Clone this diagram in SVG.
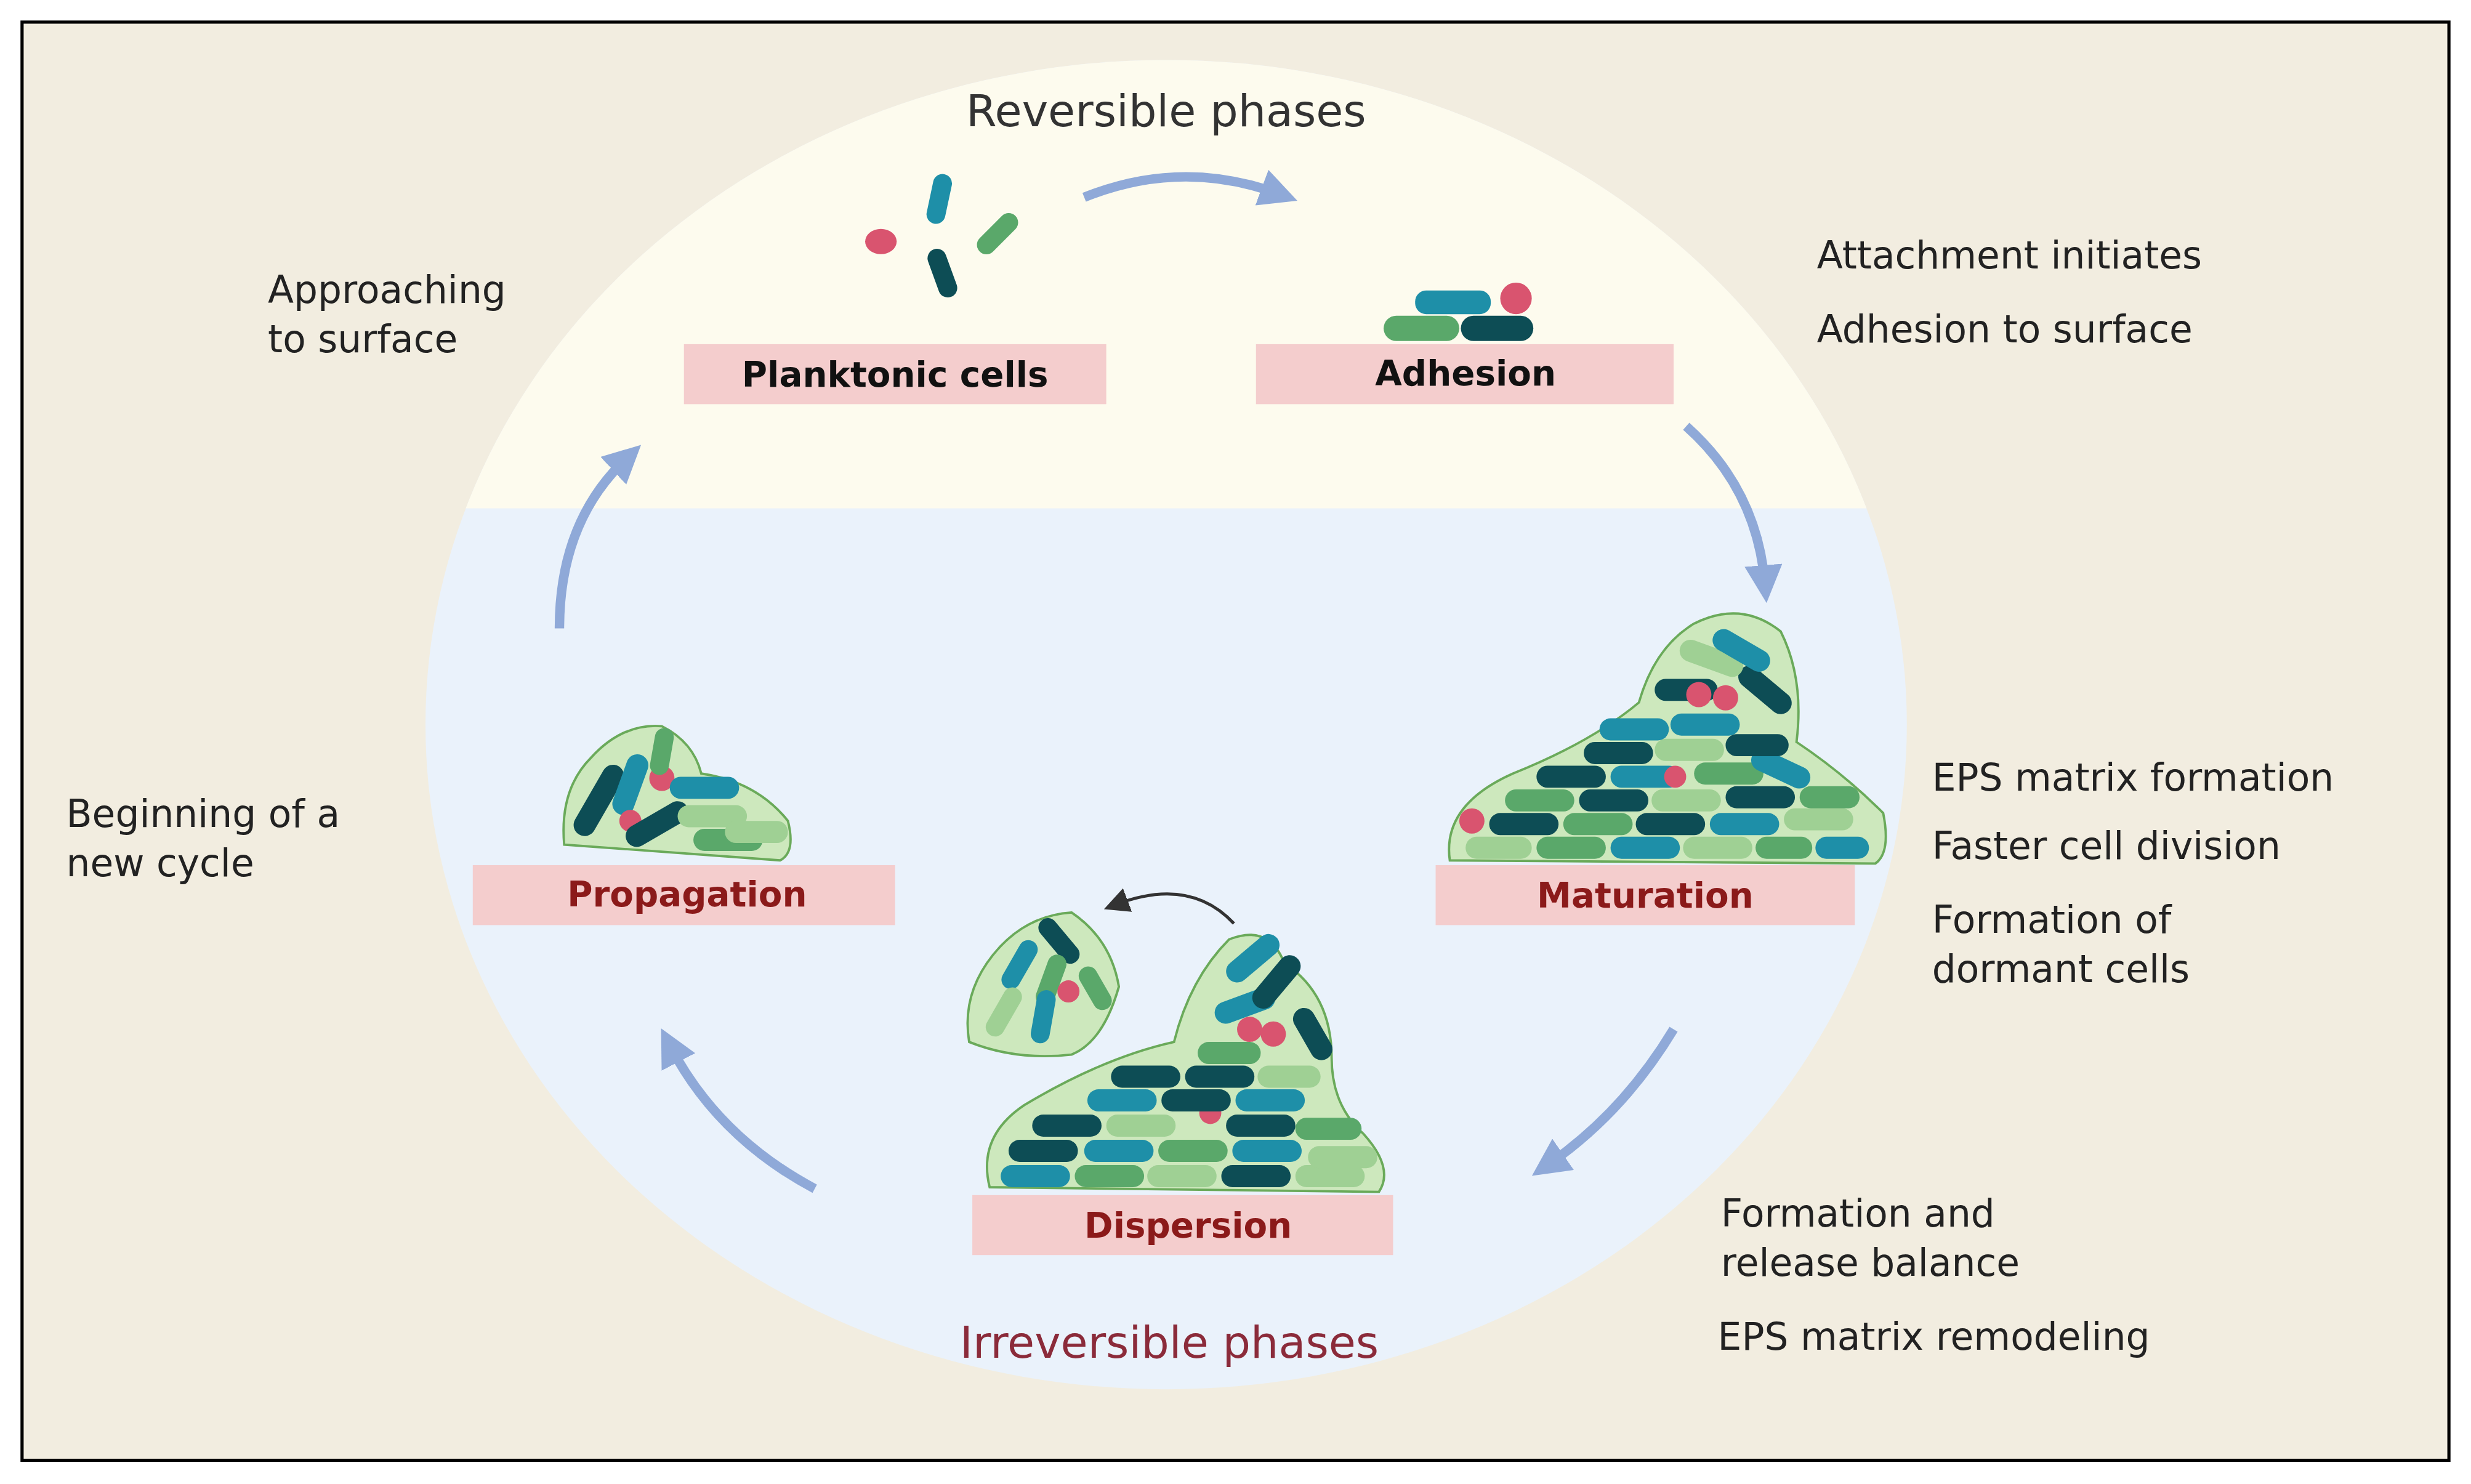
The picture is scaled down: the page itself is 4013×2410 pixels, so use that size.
<svg xmlns="http://www.w3.org/2000/svg" width="4013" height="2410" viewBox="0 0 4013 2410">
<defs>
<style>
.lbl{fill:#f4cdcd}
.t{font-family:"DejaVu Sans","Liberation Sans",sans-serif}
.side{font-family:"DejaVu Sans","Liberation Sans",sans-serif;font-size:24px;fill:#222}
.nb{font-family:"DejaVu Sans","Liberation Sans",sans-serif;font-size:22px;font-weight:bold;text-anchor:middle}
.arr{fill:none;stroke:#8fa9d8;stroke-width:6;marker-end:url(#ah)}
.a{fill:#1e8fa8}.d{fill:#0d4d55}.g{fill:#5aa86a}.l{fill:#9fd094}.p{fill:#d9546f}
.blob{fill:#cde8bd;stroke:#6aaa5a;stroke-width:1.5}
</style>
<marker id="ah" markerWidth="4" markerHeight="4" refX="2" refY="2" orient="auto" markerUnits="strokeWidth"><path d="M0,0 L4,2 L0,4 Z" fill="#8fa9d8"/></marker>
<marker id="ah2" markerWidth="8" markerHeight="8" refX="4" refY="4" orient="auto" markerUnits="strokeWidth"><path d="M0,0 L8,4 L0,8 Z" fill="#333"/></marker>
<clipPath id="top"><rect x="0" y="0" width="1568" height="322"/></clipPath>
</defs>
<g transform="scale(2.5593,2.5638)">
<rect x="14" y="14" width="1540" height="911" fill="#f2ede0" stroke="#000" stroke-width="2"/>
<ellipse cx="740" cy="459" rx="470" ry="421" fill="#eaf2fb"/>
<ellipse cx="740" cy="459" rx="470" ry="421" fill="#fdfbee" clip-path="url(#top)"/>

<text class="t" x="740" y="80" font-size="28" fill="#333" text-anchor="middle">Reversible phases</text>
<text class="t" x="742" y="860" font-size="28" fill="#8b2b3a" text-anchor="middle">Irreversible phases</text>

<g id="connectors">
<path class="arr" d="M688,125 Q750,100 812,123"/>
<path class="arr" d="M1070,270 Q1115,310 1120,370"/>
<path class="arr" d="M1062,652 Q1030,705 982,738"/>
<path class="arr" d="M517,753 Q455,720 425,662"/>
<path class="arr" d="M355,398 Q355,330 398,290"/>
<path d="M783,585 Q755,555 708,573" fill="none" stroke="#333" stroke-width="2" marker-end="url(#ah2)"/>
</g>

<g id="planktonic">
<ellipse class="p" cx="559" cy="153" rx="10" ry="8"/>
<rect class="a" x="590" y="110" width="12" height="32" rx="6" transform="rotate(12 596 126)"/>
<rect class="g" x="627" y="132" width="12" height="32" rx="6" transform="rotate(45 633 148)"/>
<rect class="d" x="592" y="157" width="12" height="32" rx="6" transform="rotate(-20 598 173)"/>
<rect class="lbl" x="434" y="218" width="268" height="38"/>
<text class="nb" x="568" y="245" fill="#111">Planktonic cells</text>
</g>

<g id="adhesion">
<rect class="a" x="898" y="184" width="48" height="15" rx="7"/>
<rect class="g" x="878" y="200" width="48" height="16" rx="8"/>
<rect class="d" x="927" y="200" width="46" height="16" rx="8"/>
<circle class="p" cx="962" cy="189" r="10"/>
<rect class="lbl" x="797" y="218" width="265" height="38"/>
<text class="nb" x="930" y="244" fill="#111">Adhesion</text>
</g>

<g id="maturation">
<path class="blob" d="M920,545 Q915,510 960,490 Q1010,470 1040,445 Q1050,410 1075,395 Q1105,380 1130,400 Q1145,430 1140,470 Q1170,490 1195,515 Q1200,540 1190,547 Z"/>
<rect class="l" x="930" y="530" width="42" height="14" rx="7"/><rect class="g" x="975" y="530" width="44" height="14" rx="7"/><rect class="a" x="1022" y="530" width="44" height="14" rx="7"/><rect class="l" x="1068" y="530" width="44" height="14" rx="7"/><rect class="g" x="1114" y="530" width="36" height="14" rx="7"/><rect class="a" x="1152" y="530" width="34" height="14" rx="7"/>
<circle class="p" cx="934" cy="520" r="8"/><rect class="d" x="945" y="515" width="44" height="14" rx="7"/><rect class="g" x="992" y="515" width="44" height="14" rx="7"/><rect class="d" x="1038" y="515" width="44" height="14" rx="7"/><rect class="a" x="1085" y="515" width="44" height="14" rx="7"/><rect class="l" x="1132" y="512" width="44" height="14" rx="7"/>
<rect class="g" x="955" y="500" width="44" height="14" rx="7"/><rect class="d" x="1002" y="500" width="44" height="14" rx="7"/><rect class="l" x="1048" y="500" width="44" height="14" rx="7"/><rect class="d" x="1095" y="498" width="44" height="14" rx="7"/><rect class="g" x="1142" y="498" width="38" height="14" rx="7"/>
<rect class="d" x="975" y="485" width="44" height="14" rx="7"/><rect class="a" x="1022" y="485" width="44" height="14" rx="7"/><circle class="p" cx="1063" cy="492" r="7"/><rect class="g" x="1075" y="483" width="44" height="14" rx="7"/><rect class="a" x="1110" y="480" width="40" height="14" rx="7" transform="rotate(25 1130 487)"/>
<rect class="d" x="1005" y="470" width="44" height="14" rx="7"/><rect class="l" x="1050" y="468" width="44" height="14" rx="7"/><rect class="d" x="1095" y="465" width="40" height="14" rx="7"/>
<rect class="a" x="1015" y="455" width="44" height="14" rx="7"/><rect class="a" x="1060" y="452" width="44" height="14" rx="7"/>
<rect class="d" x="1050" y="430" width="40" height="14" rx="7"/><circle class="p" cx="1078" cy="440" r="8"/><circle class="p" cx="1095" cy="442" r="8"/><rect class="d" x="1100" y="430" width="40" height="14" rx="7" transform="rotate(40 1120 437)"/>
<rect class="l" x="1065" y="410" width="42" height="14" rx="7" transform="rotate(20 1086 417)"/><rect class="a" x="1085" y="405" width="40" height="14" rx="7" transform="rotate(30 1105 412)"/>
<rect class="lbl" x="911" y="548" width="266" height="38"/>
<text class="nb" x="1044" y="575" fill="#8b1a1a">Maturation</text>
</g>

<g id="dispersion">
<path class="blob" d="M628,752 Q620,720 650,700 Q700,670 745,660 Q755,620 780,595 Q805,585 815,610 Q845,630 845,670 Q845,700 865,718 Q885,740 875,755 Z"/>
<path class="blob" d="M615,660 Q610,630 630,605 Q650,580 680,578 Q705,595 710,625 Q700,660 680,668 Q645,672 615,660 Z"/>
<rect class="a" x="635" y="738" width="44" height="14" rx="7"/><rect class="g" x="682" y="738" width="44" height="14" rx="7"/><rect class="l" x="728" y="738" width="44" height="14" rx="7"/><rect class="d" x="775" y="738" width="44" height="14" rx="7"/><rect class="l" x="822" y="738" width="44" height="14" rx="7"/>
<rect class="d" x="640" y="722" width="44" height="14" rx="7"/><rect class="a" x="688" y="722" width="44" height="14" rx="7"/><rect class="g" x="735" y="722" width="44" height="14" rx="7"/><rect class="a" x="782" y="722" width="44" height="14" rx="7"/><rect class="l" x="830" y="726" width="44" height="14" rx="7"/>
<rect class="d" x="655" y="706" width="44" height="14" rx="7"/><rect class="l" x="702" y="706" width="44" height="14" rx="7"/><circle class="p" cx="768" cy="705" r="7"/><rect class="d" x="778" y="706" width="44" height="14" rx="7"/><rect class="g" x="822" y="708" width="42" height="14" rx="7"/>
<rect class="a" x="690" y="690" width="44" height="14" rx="7"/><rect class="d" x="737" y="690" width="44" height="14" rx="7"/><rect class="a" x="784" y="690" width="44" height="14" rx="7"/>
<rect class="d" x="705" y="675" width="44" height="14" rx="7"/><rect class="d" x="752" y="675" width="44" height="14" rx="7"/><rect class="l" x="798" y="675" width="40" height="14" rx="7"/>
<rect class="g" x="760" y="660" width="40" height="14" rx="7"/><circle class="p" cx="793" cy="652" r="8"/><circle class="p" cx="808" cy="655" r="8"/><rect class="d" x="815" y="648" width="36" height="14" rx="7" transform="rotate(60 833 655)"/>
<rect class="a" x="770" y="630" width="40" height="14" rx="7" transform="rotate(-20 790 637)"/><rect class="d" x="790" y="615" width="40" height="14" rx="7" transform="rotate(-50 810 622)"/><rect class="a" x="775" y="600" width="40" height="14" rx="7" transform="rotate(-40 795 607)"/>
<rect class="d" x="655" y="590" width="34" height="12" rx="6" transform="rotate(50 672 596)"/><rect class="a" x="630" y="605" width="34" height="12" rx="6" transform="rotate(-60 647 611)"/><rect class="g" x="650" y="615" width="34" height="12" rx="6" transform="rotate(-70 667 621)"/><circle class="p" cx="678" cy="628" r="7"/><rect class="l" x="620" y="635" width="34" height="12" rx="6" transform="rotate(-60 637 641)"/><rect class="a" x="645" y="638" width="34" height="12" rx="6" transform="rotate(-80 662 644)"/><rect class="g" x="680" y="620" width="30" height="12" rx="6" transform="rotate(60 695 626)"/>
<rect class="lbl" x="617" y="757" width="267" height="38"/>
<text class="nb" x="754" y="784" fill="#8b1a1a">Dispersion</text>
</g>

<g id="propagation">
<path class="blob" d="M358,535 Q355,500 375,480 Q395,458 420,460 Q440,470 445,490 Q480,495 500,520 Q505,540 495,545 Z"/>
<rect class="d" x="355" y="500" width="50" height="14" rx="7" transform="rotate(-60 380 507)"/><rect class="a" x="380" y="490" width="40" height="14" rx="7" transform="rotate(-70 400 497)"/><circle class="p" cx="420" cy="493" r="8"/><circle class="p" cx="400" cy="520" r="7"/>
<rect class="a" x="425" y="492" width="44" height="14" rx="7"/><rect class="d" x="395" y="515" width="44" height="14" rx="7" transform="rotate(-30 417 522)"/><rect class="l" x="430" y="510" width="44" height="14" rx="7"/><rect class="g" x="440" y="525" width="44" height="14" rx="7"/><rect class="l" x="460" y="520" width="40" height="14" rx="7"/><rect class="g" x="405" y="470" width="30" height="12" rx="6" transform="rotate(-80 420 476)"/>
<rect class="lbl" x="300" y="548" width="268" height="38"/>
<text class="nb" x="436" y="574" fill="#8b1a1a">Propagation</text>
</g>

<g id="side-texts">
<text class="side" x="170" y="192">Approaching</text><text class="side" x="170" y="223">to surface</text>
<text class="side" x="1153" y="170">Attachment initiates</text><text class="side" x="1153" y="217">Adhesion to surface</text>
<text class="side" x="1226" y="501">EPS matrix formation</text><text class="side" x="1226" y="544">Faster cell division</text><text class="side" x="1226" y="591">Formation of</text><text class="side" x="1226" y="622">dormant cells</text>
<text class="side" x="42" y="524">Beginning of a</text><text class="side" x="42" y="555">new cycle</text>
<text class="side" x="1092" y="777">Formation and</text><text class="side" x="1092" y="808">release balance</text><text class="side" x="1090" y="855">EPS matrix remodeling</text>
</g>
</g>
</svg>
